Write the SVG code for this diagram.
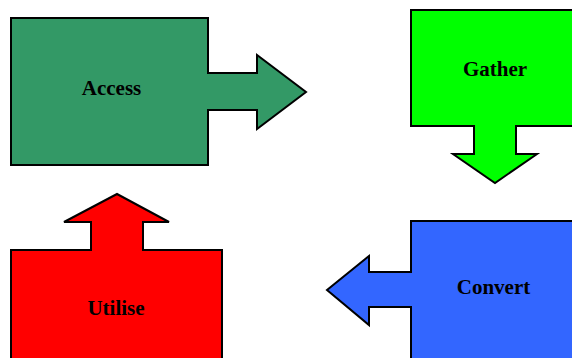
<svg xmlns="http://www.w3.org/2000/svg" width="572" height="358" viewBox="0 0 572 358">
<style>
.s{stroke:#000;stroke-width:2;stroke-linejoin:miter}
.t{font-family:"Liberation Serif","Times New Roman",serif;font-weight:bold;font-size:21px;text-anchor:middle;fill:#000}
</style>
<rect width="572" height="358" fill="#fff"/>
<g id="access">
<path class="s" fill="#339966" d="M11,18 H208 V73 H257 V55 L306,92 L257,129 V110 H208 V165 H11 Z"/>
<text class="t" x="111.5" y="95">Access</text>
</g>
<g id="gather">
<path class="s" fill="#00ff00" d="M411,10 H580 V126 H516 V154 H537 L495,183 L453,154 H474 V126 H411 Z"/>
<text class="t" x="495" y="76">Gather</text>
</g>
<g id="convert">
<path class="s" fill="#3366ff" d="M411,221 H580 V365 H411 V307 H369 V325 L327,290 L369,256 V272 H411 Z"/>
<text class="t" x="493.5" y="293.5">Convert</text>
</g>
<g id="utilise">
<path class="s" fill="#ff0000" d="M11,250 H91 V222 H64 L117,194 L169,222 H143 V250 H222 V365 H11 Z"/>
<text class="t" x="116" y="314.5">Utilise</text>
</g>
<g id="connectors"></g>
</svg>
